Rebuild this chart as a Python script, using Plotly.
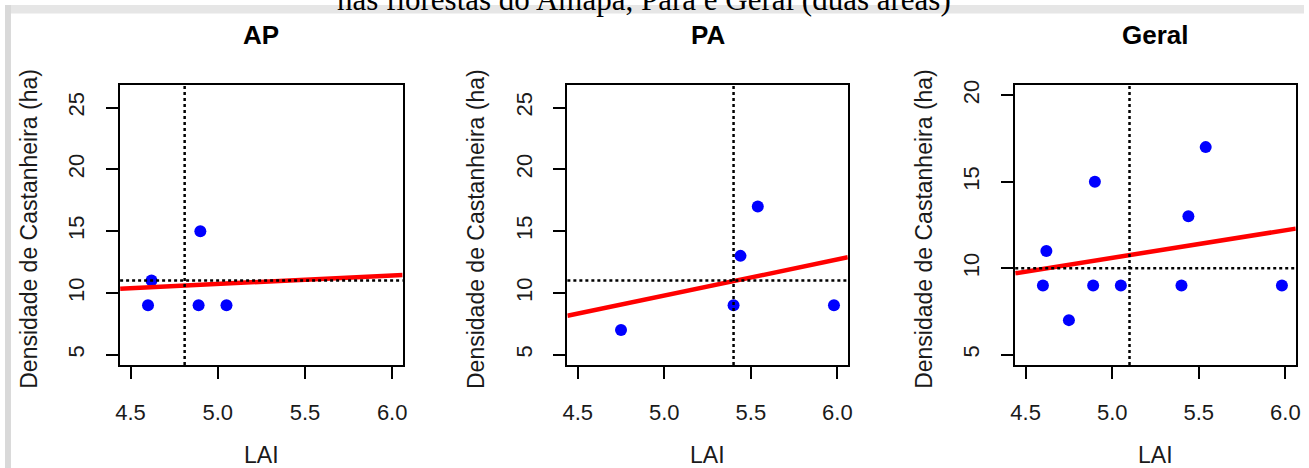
import plotly.graph_objects as go

# ---- data ----
ap_lai = [4.60, 4.62, 4.90, 4.89, 5.05]
ap_dens = [9, 11, 15, 9, 9]
pa_lai = [4.75, 5.40, 5.44, 5.54, 5.98]
pa_dens = [7, 9, 13, 17, 9]
geral_lai = ap_lai + pa_lai
geral_dens = ap_dens + pa_dens

panel_titles = ["AP", "PA", "Geral"]
ref_lai = [4.81, 5.40, 5.10]        # vertical dotted lines
ref_dens = [11, 11, 10]             # horizontal dotted lines
fit_slope = [0.69, 2.92, 1.594]     # red regression lines
fit_intercept = [7.28, -4.81, 2.63]

x_ticks = [4.5, 5.0, 5.5, 6.0]
x_ticktext = ["4.5", "5.0", "5.5", "6.0"]
y_ticks = [[5, 10, 15, 20, 25], [5, 10, 15, 20, 25], [5, 10, 15, 20]]
xlim = [4.5, 6.0]
ylims = [[5, 26], [5, 26], [5, 20]]

main_title = "nas florestas do Amapá, Pará e Geral (duas áreas)"
x_label = "LAI"
y_label = "Densidade de Castanheira (ha)"

W, H = 1309, 468
# plot boxes in pixels (left, right, top, bottom)
boxes = [(116, 400.7, 80.7, 364), (566.7, 849.3, 80.7, 364), (1018, 1300.7, 80.7, 364)]


def pad(lim):
    d = (lim[1] - lim[0]) * 0.04
    return [lim[0] - d, lim[1] + d]


fig = go.Figure()
series = [(ap_lai, ap_dens), (pa_lai, pa_dens), (geral_lai, geral_dens)]
xr = pad(xlim)
font_fam = "Liberation Sans, Arial, sans-serif"
txt_col = "#1a1a1a"

layout = dict(
    width=W, height=H,
    margin=dict(l=0, r=0, t=0, b=0),
    paper_bgcolor="white", plot_bgcolor="white",
    showlegend=False,
    font=dict(family=font_fam, size=22, color=txt_col),
)
shapes = []
annotations = []

for i, ((xs, ys), box) in enumerate(zip(series, boxes)):
    n = "" if i == 0 else str(i + 1)
    xa, ya = "x" + n, "y" + n
    l, r, t, b = box
    yr = pad(ylims[i])
    layout["xaxis" + n] = dict(
        domain=[l / W, r / W], range=xr, anchor=ya,
        tickvals=x_ticks, ticktext=x_ticktext,
        ticks="outside", ticklen=12, tickwidth=2, tickcolor="black",
        showline=True, linewidth=2, linecolor="black", mirror=True,
        showgrid=False, zeroline=False, ticklabelstandoff=14,
        tickfont=dict(size=22, color=txt_col),
    )
    layout["yaxis" + n] = dict(
        domain=[1 - b / H, 1 - t / H], range=yr, anchor=xa,
        tickvals=y_ticks[i], tickangle=-90,
        ticks="outside", ticklen=12, tickwidth=2, tickcolor="black",
        showline=True, linewidth=2, linecolor="black", mirror=True,
        showgrid=False, zeroline=False, ticklabelstandoff=13,
        tickfont=dict(size=22, color=txt_col),
    )
    # points
    fig.add_trace(go.Scatter(x=xs, y=ys, mode="markers", xaxis=xa, yaxis=ya,
                             marker=dict(color="#0000ff", size=12)))
    # regression line across the plot region
    fig.add_trace(go.Scatter(x=xr, y=[fit_intercept[i] + fit_slope[i] * v for v in xr],
                             mode="lines", xaxis=xa, yaxis=ya,
                             line=dict(color="#ff0000", width=4.5)))
    # dotted reference lines
    shapes.append(dict(type="line", xref=xa, yref=ya + " domain",
                       x0=ref_lai[i], x1=ref_lai[i], y0=0, y1=1,
                       line=dict(color="black", width=2.5, dash="dot")))
    shapes.append(dict(type="line", xref=xa + " domain", yref=ya,
                       x0=0, x1=1, y0=ref_dens[i], y1=ref_dens[i],
                       line=dict(color="black", width=2.5, dash="dot")))
    cx = (l + r) / 2
    # panel title
    annotations.append(dict(text="<b>" + panel_titles[i] + "</b>", xref="paper", yref="paper",
                            x=cx / W, y=1 - 30 / H, xanchor="center", yanchor="middle",
                            showarrow=False, font=dict(size=26, color="black", family=font_fam)))
    # x label
    annotations.append(dict(text=x_label, xref="paper", yref="paper",
                            x=cx / W, y=1 - 455 / H, xanchor="center", yanchor="middle",
                            showarrow=False, font=dict(size=23, color=txt_col)))
    # y label
    annotations.append(dict(text=y_label, xref="paper", yref="paper",
                            x=(l - 92) / W, y=1 - ((t + b) / 2 + 4) / H,
                            xanchor="center", yanchor="middle", textangle=-90,
                            showarrow=False, font=dict(size=23, color=txt_col)))

# grey page edges
shapes.insert(0, dict(type="rect", xref="paper", yref="paper", x0=0, x1=1,
                      y0=1 - 8.5 / H, y1=1, fillcolor="#e6e6e6", line=dict(width=0), layer="below"))
shapes.insert(1, dict(type="rect", xref="paper", yref="paper", x0=0, x1=6 / W,
                      y0=0, y1=1, fillcolor="#d9d9d9", line=dict(width=0), layer="below"))

# main title, cut off at the top edge as in the reference
annotations.append(dict(text=main_title, xref="paper", yref="paper",
                        x=643.5 / W, y=1 - 14 / H, xanchor="center", yanchor="bottom",
                        showarrow=False,
                        font=dict(size=31, color="black",
                                  family="Liberation Serif, Times New Roman, serif")))

layout["shapes"] = shapes
layout["annotations"] = annotations
fig.update_layout(**layout)
fig.write_html("out.html")
